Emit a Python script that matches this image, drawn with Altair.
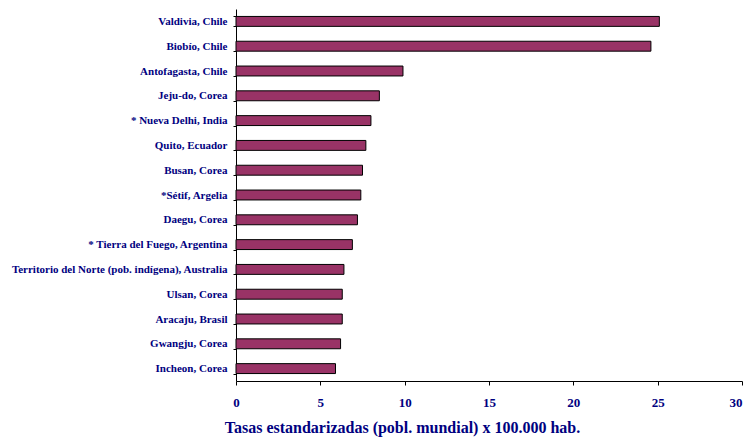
import altair as alt
import pandas as pd

places = [
    "Valdivia, Chile",
    "Biobío, Chile",
    "Antofagasta, Chile",
    "Jeju-do, Corea",
    "* Nueva Delhi, India",
    "Quito, Ecuador",
    "Busan, Corea",
    "*Sétif, Argelia",
    "Daegu, Corea",
    "* Tierra del Fuego, Argentina",
    "Territorio del Norte (pob. indígena), Australia",
    "Ulsan, Corea",
    "Aracaju, Brasil",
    "Gwangju, Corea",
    "Incheon, Corea",
]
rates = [25.1, 24.6, 9.9, 8.5, 8.0, 7.7, 7.5, 7.4, 7.2, 6.9, 6.4, 6.3, 6.3, 6.2, 5.9]
x_ticks = [0, 5, 10, 15, 20, 25, 30]

df = pd.DataFrame({"place": places, "rate": rates})

NAVY = "#000080"
FONT = "Liberation Serif, Times New Roman, serif"

chart = (
    alt.Chart(df)
    .mark_bar(color="#993366", stroke="black", strokeWidth=1)
    .encode(
        y=alt.Y(
            "place:N",
            sort=places,
            title=None,
            scale=alt.Scale(paddingInner=0.6, paddingOuter=0.3),
            axis=alt.Axis(
                tickBand="extent",
                tickSize=3,
                tickColor="black",
                domainColor="black",
                labelPadding=6,
                labelFont=FONT,
                labelFontWeight="bold",
                labelFontSize=11,
                labelColor=NAVY,
                labelLimit=400,
            ),
        ),
        x=alt.X(
            "rate:Q",
            title="Tasas estandarizadas (pobl. mundial) x 100.000 hab.",
            scale=alt.Scale(domain=[0, 30], nice=False),
            axis=alt.Axis(
                values=x_ticks,
                grid=False,
                labelFlush=False,
                labelAlign=alt.ExprRef(expr="datum.value >= 30 ? 'right' : 'center'"),
                tickSize=4,
                tickColor="black",
                domainColor="black",
                labelPadding=11,
                labelFont=FONT,
                labelFontWeight="bold",
                labelFontSize=13,
                labelColor=NAVY,
                titleFont=FONT,
                titleFontWeight="bold",
                titleFontSize=16,
                titleColor=NAVY,
                titleX=166,
                titleY=51,
                titleAlign="center",
                titleBaseline="alphabetic",
            ),
        ),
        tooltip=["place", "rate"],
    )
    .properties(
        width=506,
        height=372,
        autosize=alt.AutoSizeParams(type="none"),
        padding={"left": 228, "top": 1, "right": 1, "bottom": 56},
    )
    .configure_view(stroke=None)
)

chart.save("out.html", embed_options={"renderer": "svg", "actions": False})
